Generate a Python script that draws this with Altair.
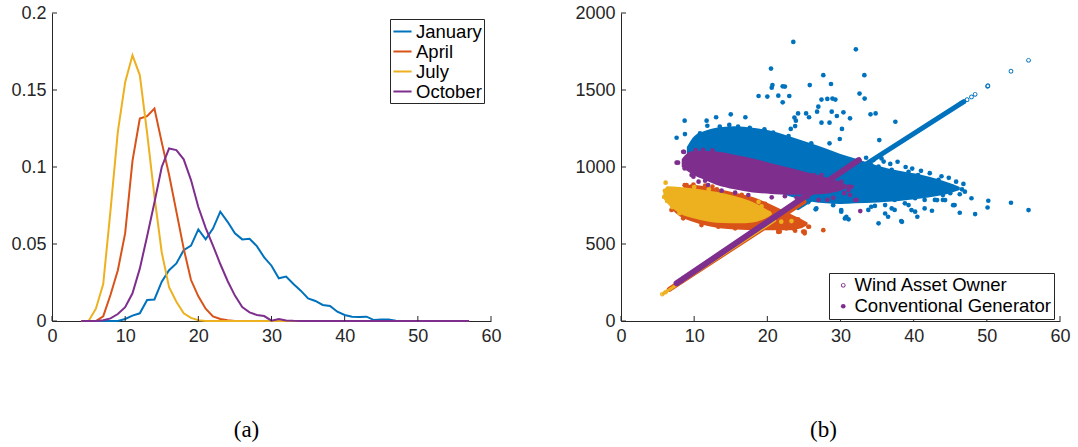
import altair as alt
import pandas as pd

MONTHS = ["January", "April", "July", "October"]
COLORS = ["#0072BD", "#D95319", "#EDB120", "#7E2F8E"]
GREY = "#262626"

# ---------------- panel (a): distributions ----------------
speed = list(range(4, 58))
january = [0.0] * 6 + [0.0013, 0.0035, 0.005, 0.0136, 0.014, 0.0255, 0.033, 0.0374, 0.046, 0.049,
                       0.0595, 0.053, 0.060, 0.071, 0.0644, 0.057, 0.053, 0.0534, 0.0486, 0.0413,
                       0.0359, 0.0277, 0.0288, 0.024, 0.0197, 0.0147, 0.013, 0.0104, 0.0097, 0.006,
                       0.0039, 0.0028, 0.0026, 0.0028, 0.0006, 0.0009, 0.0009, 0.0002] + [0.0] * 10
april = [0.0, 0.0, 0.0, 0.003, 0.017, 0.033, 0.057, 0.104, 0.1315, 0.133, 0.138, 0.116, 0.095,
         0.071, 0.047, 0.0266, 0.016, 0.008, 0.003, 0.0013, 0.0005] + [0.0] * 33
july = [0.0, 0.0, 0.008, 0.024, 0.072, 0.123, 0.155, 0.1725, 0.1597, 0.122, 0.081, 0.0445, 0.022,
        0.0125, 0.005, 0.002, 0.0005] + [0.0] * 37
october = [0.0, 0.0, 0.0, 0.0005, 0.0017, 0.0045, 0.009, 0.018, 0.034, 0.055, 0.077, 0.1, 0.112,
           0.111, 0.105, 0.0915, 0.074, 0.0605, 0.049, 0.037, 0.026, 0.0165, 0.009, 0.0056,
           0.0039, 0.0032, 0.0002, 0.0013, 0.0004, 0.0001] + [0.0] * 24

X_TICKS = [0, 10, 20, 30, 40, 50, 60]
YA_TICKS = [0, 0.05, 0.1, 0.15, 0.2]
YB_TICKS = [0, 500, 1000, 1500, 2000]

# ---------------- panel (b): scatter ----------------
# dense cluster cores of "Conventional Generator" (x, lower, upper)
jan_core_x = [9.0, 10.0, 11.5, 13, 15.5, 18, 20, 23, 25.5, 28, 30, 32, 35, 38, 41, 43, 45, 46.3]
jan_core_lo = [1080, 1030, 990, 960, 930, 890, 860, 810, 780, 765, 760, 765, 770, 780, 795, 810, 830, 850]
jan_core_hi = [1130, 1200, 1235, 1255, 1265, 1255, 1240, 1200, 1160, 1120, 1085, 1055, 1010, 975, 950, 925, 895, 870]
apr_core_x = [7.0, 8, 9.5, 12, 15, 18, 21, 23, 24.5, 25.5]
apr_core_lo = [720, 680, 650, 615, 595, 590, 590, 590, 600, 625]
apr_core_hi = [760, 840, 885, 870, 840, 805, 745, 700, 665, 640]
jul_core_x = [5.8, 6.3, 8, 10, 12, 14, 16, 18, 19.5, 20.6]
jul_core_lo = [795, 765, 700, 665, 645, 636, 634, 640, 660, 690]
jul_core_hi = [835, 875, 870, 860, 845, 830, 805, 772, 735, 705]
oct_core_x = [8.3, 9.5, 11, 13, 15.5, 18, 20.5, 23, 25.5, 27.5, 29.5, 30.8]
oct_core_lo = [1000, 960, 925, 885, 855, 835, 825, 820, 820, 825, 840, 860]
oct_core_hi = [1050, 1100, 1105, 1100, 1080, 1055, 1025, 995, 965, 940, 910, 885]

# scattered "Conventional Generator" points around the cores
jan_pts_x = [23.55, 32.1, 20.5, 27.65, 33.26, 20.7, 20.6, 22.1, 22.4, 25.8, 28.7, 32.6, 18.8, 20.0, 21.5,
             22.1, 23.0, 27.4, 28.2, 28.9, 29.3, 33.3, 26.97, 24.2, 25.3, 26.8, 28.8, 30.4, 34.1, 34.8,
             23.7, 25.7, 29.5, 31.3, 37.5, 8.7, 11.7, 13.0, 15.0, 17.0, 27.4, 28.5, 30.2, 23.9, 23.2,
             23.8, 35.3, 29.9, 7.6, 8.74, 10.0, 11.8, 10.8, 13.5, 14.8, 16.0, 17.6, 19.6, 20.8, 22.9,
             24.6, 26.0, 28.5, 35.6, 34.2, 35.2, 37.0, 39.3, 40.6, 42.0, 43.4, 44.5, 45.2, 46.6, 46.3,
             47.9, 50.2, 53.3, 44.0, 42.9, 42.0, 41.1, 40.2, 42.9, 41.5, 40.2, 38.8, 37.4, 45.6, 44.0,
             48.4, 50.1, 55.7, 46.3, 43.2, 42.5, 40.5, 38.4, 35.2, 36.1, 37.0, 30.6, 30.1, 29.0, 26.7,
             33.1, 34.2, 39.7, 41.5, 44.3, 45.4, 26.6, 30.1, 30.8, 31.1, 33.8, 36.5, 38.3, 37.4, 40.2,
             39.3, 36.1, 34.7, 37.8, 45.0, 43.0, 47.0, 46.8, 45.8, 44.8, 43.8, 42.2, 41.0, 39.8, 38.9,
             36.8, 35.9, 34.5, 33.5]
jan_pts_y = [1812, 1764, 1639, 1596, 1596, 1532, 1515, 1524, 1522, 1532, 1539, 1477, 1461, 1457, 1463,
             1420, 1461, 1438, 1442, 1444, 1438, 1444, 1392, 1348, 1348, 1359, 1359, 1355, 1342, 1348,
             1321, 1323, 1331, 1316, 1294, 1301, 1301, 1323, 1342, 1323, 1288, 1288, 1247, 1301, 1247,
             1266, 1175, 1182, 1190, 1214, 1158, 1268, 1219, 1262, 1273, 1262, 1255, 1245, 1223, 1201,
             1154, 1154, 1154, 1056, 1013, 1002, 981, 969, 948, 916, 916, 883, 872, 855, 823,
             797, 781, 768, 818, 851, 872, 894, 916, 786, 786, 797, 764, 786, 753, 786,
             694, 737, 720, 703, 785, 716, 677, 644, 634, 698, 731, 666, 720, 752, 731,
             785, 742, 720, 731, 785, 752, 725, 710, 677, 660, 721, 677, 649, 721, 710,
             753, 753, 747, 1034, 830, 870, 840, 890, 905, 930, 940, 960, 975, 990, 1000,
             1020, 1035, 1045, 1060]
apr_pts_x = [8.97, 9.65, 9.9, 8.7, 13.1, 16.5, 19.7, 22.4, 23.3, 25.1, 6.9, 8.5, 11.0, 13.3, 15.6, 18.8,
             21.5, 23.8, 27.65, 25.7, 24.9, 24.2, 23.5, 22.6, 21.7, 25.1, 25.6, 23.5, 21.5, 11.5, 12.5]
apr_pts_y = [883, 872, 886, 882, 855, 820, 760, 690, 640, 580, 721, 667, 623, 612, 602, 591,
             580, 586, 590, 612, 580, 660, 602, 602, 580, 569, 612, 608, 579, 880, 872]
jul_pts_x = [6.1, 5.9, 6.0, 6.3, 7.0, 8.0, 21.9, 23.3, 18.8, 19.2, 20.2, 10.0, 12.0]
jul_pts_y = [898, 806, 845, 780, 740, 700, 645, 649, 774, 745, 700, 870, 855]
oct_pts_x = [7.6, 8.5, 9.2, 8.7, 9.9, 10.6, 11.9, 7.8, 9.65, 11.5, 13.75, 15.6, 17.4, 20.6, 22.4, 32.7,
             32.2, 31.3, 31.1, 30.1, 28.2, 27.0, 27.4, 26.3, 29.5, 9.9, 8.6, 31.5, 32.0, 31.1, 24.0,
             25.5, 29.0, 30.5, 10.2, 11.2, 12.5]
oct_pts_y = [1028, 1099, 1045, 991, 937, 905, 883, 1028, 948, 911, 846, 833, 818, 803, 810, 714,
             786, 818, 872, 905, 786, 786, 948, 948, 894, 1083, 1098, 871, 785, 850, 800,
             805, 800, 830, 1110, 1112, 1108]

# "Wind Asset Owner": dense diagonal runs (end points) and isolated circles
jan_wind_x = [24.2, 46.8]
jan_wind_y = [737, 1423]
apr_wind_x = [6.6, 25.0]
apr_wind_y = [205, 775]
jul_wind_x = [5.7, 21.0]
jul_wind_y = [176, 652]
oct_wind_x = [7.6, 32.5]
oct_wind_y = [245, 1045]
jan_ring_x = [24.2, 24.9, 25.6, 46.5, 46.9, 47.3, 47.9, 48.4, 50.1, 50.15, 53.3, 55.7]
jan_ring_y = [742, 759, 772, 1415, 1425, 1437, 1455, 1472, 1524, 1528, 1622, 1693]
apr_ring_x = [24.5, 25.0]
apr_ring_y = [760, 775]
jul_ring_x = [5.64, 6.1]
jul_ring_y = [175, 188]
oct_ring_x = [7.6, 8.3, 31.5, 32.0, 32.5]
oct_ring_y = [245, 262, 1012, 1030, 1045]
wind_widths = [5, 5, 3, 6]

LEG_B = ["Wind Asset Owner", "Conventional Generator"]
RING = ("M-1,0A1,1,0,1,1,1,0A1,1,0,1,1,-1,0Z"
        "M-0.62,0A0.62,0.62,0,1,0,0.62,0A0.62,0.62,0,1,0,-0.62,0Z")

W, H = 439, 308

X_AXIS = alt.Axis(values=X_TICKS, title=None, labelFlush=False)
YA_AXIS = alt.Axis(values=YA_TICKS, title=None, labelExpr="toString(datum.value)")
YB_AXIS = alt.Axis(values=YB_TICKS, title=None, labelExpr="toString(datum.value)")
SX = alt.Scale(domain=[0, 60], nice=False, zero=False)
SYA = alt.Scale(domain=[0, 0.2], nice=False)
SYB = alt.Scale(domain=[0, 2000], nice=False)

# ---------------- build panel (a) ----------------
df_a = pd.DataFrame({
    "speed": speed * 4,
    "value": january + april + july + october,
    "month": [m for m in MONTHS for _ in speed],
})

lines_a = alt.Chart(df_a).mark_line(strokeWidth=2).encode(
    x=alt.X("speed:Q", scale=SX, axis=X_AXIS),
    y=alt.Y("value:Q", scale=SYA, axis=YA_AXIS),
    color=alt.Color("month:N", sort=MONTHS,
                    scale=alt.Scale(domain=MONTHS, range=COLORS),
                    legend=alt.Legend(title=None, orient="none", legendX=338, legendY=6,
                                      strokeColor=GREY, fillColor="white", padding=2,
                                      labelFontSize=18.5, labelFont="Liberation Sans",
                                      labelColor="black", symbolType="stroke",
                                      symbolSize=330, symbolStrokeWidth=2,
                                      rowPadding=0, labelOffset=3, labelLimit=0)),
)


def tick_layers(yticks, yscale, yaxis):
    xt = alt.Chart(pd.DataFrame({"t": X_TICKS})).mark_rule(color=GREY, strokeWidth=1).encode(
        x=alt.X("t:Q", scale=SX, axis=X_AXIS),
        y=alt.value(H), y2=alt.value(H - 5))
    yt = alt.Chart(pd.DataFrame({"t": yticks})).mark_rule(color=GREY, strokeWidth=1).encode(
        y=alt.Y("t:Q", scale=yscale, axis=yaxis),
        x=alt.value(0), x2=alt.value(5))
    return [xt, yt]


panel_a = alt.layer(lines_a, *tick_layers(YA_TICKS, SYA, YA_AXIS)).properties(
    width=W, height=H,
    title=alt.TitleParams("(a)", orient="bottom", anchor="middle", frame="group", dx=-25,
                          offset=74, font="Liberation Serif", fontSize=23,
                          fontWeight="normal", color="black"),
)

# ---------------- build panel (b) ----------------


def xb(f):
    return alt.X(f + ":Q", scale=SX, axis=X_AXIS)


def yb(f):
    return alt.Y(f + ":Q", scale=SYB, axis=YB_AXIS)


cores = [(jan_core_x, jan_core_lo, jan_core_hi), (apr_core_x, apr_core_lo, apr_core_hi),
         (jul_core_x, jul_core_lo, jul_core_hi), (oct_core_x, oct_core_lo, oct_core_hi)]
pts = [(jan_pts_x, jan_pts_y), (apr_pts_x, apr_pts_y), (jul_pts_x, jul_pts_y), (oct_pts_x, oct_pts_y)]
winds = [(jan_wind_x, jan_wind_y), (apr_wind_x, apr_wind_y), (jul_wind_x, jul_wind_y), (oct_wind_x, oct_wind_y)]
rings = [(jan_ring_x, jan_ring_y), (apr_ring_x, apr_ring_y), (jul_ring_x, jul_ring_y), (oct_ring_x, oct_ring_y)]

layers_b = []
for i, c in enumerate(COLORS):
    cx, clo, chi = cores[i]
    layers_b.append(alt.Chart(pd.DataFrame({"x": cx, "lo": clo, "hi": chi})).mark_area(
        interpolate="monotone", color=c, opacity=1).encode(x=xb("x"), y=yb("lo"), y2=alt.Y2("hi:Q")))
    wx, wy = winds[i]
    layers_b.append(alt.Chart(pd.DataFrame({"x": wx, "y": wy})).mark_line(
        color=c, strokeWidth=wind_widths[i], strokeCap="round").encode(x=xb("x"), y=yb("y")))
    px, py = pts[i]
    rx, ry = rings[i]
    if i < 3:
        layers_b.append(alt.Chart(pd.DataFrame({"x": px, "y": py})).mark_point(
            filled=True, shape="circle", color=c, opacity=1, size=22).encode(x=xb("x"), y=yb("y")))
        layers_b.append(alt.Chart(pd.DataFrame({"x": rx, "y": ry})).mark_point(
            filled=True, shape=RING, color=c, opacity=1, size=22).encode(x=xb("x"), y=yb("y")))
    else:
        df_p = pd.DataFrame({"x": rx + px, "y": ry + py,
                             "type": [LEG_B[0]] * len(rx) + [LEG_B[1]] * len(px)})
        # legends are placed relative to the first panel's plot origin
        leg = alt.Legend(title=None, orient="none", legendX=777, legendY=260,
                         strokeColor=GREY, fillColor="white", padding=3,
                         labelFontSize=18.5, labelFont="Liberation Sans",
                         labelColor="black", symbolSize=22, rowPadding=2,
                         labelOffset=2, symbolOffset=2, labelLimit=0)
        layers_b.append(alt.Chart(df_p).mark_point(filled=True, color=c, opacity=1, size=22).encode(
            x=xb("x"), y=yb("y"),
            shape=alt.Shape("type:N", scale=alt.Scale(domain=LEG_B, range=[RING, "circle"]),
                            legend=leg)))

panel_b = alt.layer(*layers_b, *tick_layers(YB_TICKS, SYB, YB_AXIS)).properties(
    width=W, height=H,
    title=alt.TitleParams("(b)", orient="bottom", anchor="middle", frame="group", dx=-17,
                          offset=74, font="Liberation Serif", fontSize=23,
                          fontWeight="normal", color="black"),
)

chart = alt.hconcat(panel_a, panel_b, spacing=72).configure(
    padding={"left": 10, "top": 4, "right": 4, "bottom": 0},
    background="white",
).configure_view(stroke=None).configure_axis(
    labelFont="Liberation Sans", labelFontSize=18, labelColor=GREY,
    domainColor=GREY, domainWidth=1, ticks=False, tickSize=0, grid=False, labelPadding=6,
)

chart.save("out.html", embed_options={"renderer": "svg", "actions": False})
